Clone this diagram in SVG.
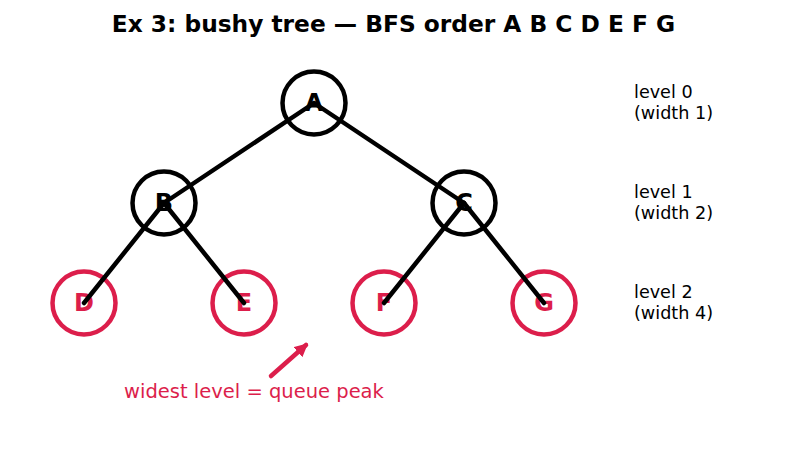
<svg xmlns="http://www.w3.org/2000/svg" width="787" height="457" viewBox="0 0 787 457">
<style>
.title{font-family:"DejaVu Sans",sans-serif;font-weight:bold;font-size:23.3px;fill:#000}
.nd circle{fill:#fff;stroke-width:4.5}
.blk circle{stroke:#000}
.red circle{stroke:#dc1e4b}
.nd text{font-family:"DejaVu Sans",sans-serif;font-weight:bold;font-size:24px;text-anchor:middle;dominant-baseline:central}
.blk text{fill:#000}
.red text{fill:#dc1e4b}
.edge{stroke:#000;stroke-width:4.5;stroke-linecap:round}
.lvl{font-family:"DejaVu Sans",sans-serif;font-size:17.6px;fill:#000}
.note{font-family:"DejaVu Sans",sans-serif;font-size:19.5px;fill:#dc1e4b;text-anchor:middle}
</style>
<defs>
<marker id="ah" viewBox="0 0 10 10" refX="8" refY="5" markerWidth="3" markerHeight="3" orient="auto" markerUnits="strokeWidth">
<path d="M0,0 L10,5 L0,10 z" fill="#dc1e4b"/>
</marker>
</defs>
<rect width="787" height="457" fill="#fff"/>
<text class="title" x="393.5" y="32" text-anchor="middle">Ex 3: bushy tree — BFS order A B C D E F G</text>
<g id="nA" class="nd blk"><circle cx="314" cy="103" r="31.5"/><text x="314" y="103">A</text></g>
<g id="nB" class="nd blk"><circle cx="164" cy="203" r="31.5"/><text x="164" y="203">B</text></g>
<g id="nC" class="nd blk"><circle cx="464" cy="203" r="31.5"/><text x="464" y="203">C</text></g>
<g id="nD" class="nd red"><circle cx="84" cy="303" r="31.5"/><text x="84" y="303">D</text></g>
<g id="nE" class="nd red"><circle cx="244" cy="303" r="31.5"/><text x="244" y="303">E</text></g>
<g id="nF" class="nd red"><circle cx="384" cy="303" r="31.5"/><text x="384" y="303">F</text></g>
<g id="nG" class="nd red"><circle cx="544" cy="303" r="31.5"/><text x="544" y="303">G</text></g>
<g id="edges">
<line class="edge" x1="314" y1="103" x2="164" y2="203"/>
<line class="edge" x1="314" y1="103" x2="464" y2="203"/>
<line class="edge" x1="164" y1="203" x2="84" y2="303"/>
<line class="edge" x1="164" y1="203" x2="244" y2="303"/>
<line class="edge" x1="464" y1="203" x2="384" y2="303"/>
<line class="edge" x1="464" y1="203" x2="544" y2="303"/>
</g>
<g id="levels">
<text class="lvl" x="634" y="97.5">level 0</text>
<text class="lvl" x="634" y="118.5">(width 1)</text>
<text class="lvl" x="634" y="197.5">level 1</text>
<text class="lvl" x="634" y="218.5">(width 2)</text>
<text class="lvl" x="634" y="297.5">level 2</text>
<text class="lvl" x="634" y="318.5">(width 4)</text>
</g>
<g id="note">
<line x1="271" y1="376" x2="306" y2="345" stroke="#dc1e4b" stroke-width="4.5" stroke-linecap="round" marker-end="url(#ah)"/>
<text class="note" x="254" y="398">widest level = queue peak</text>
</g>
</svg>
